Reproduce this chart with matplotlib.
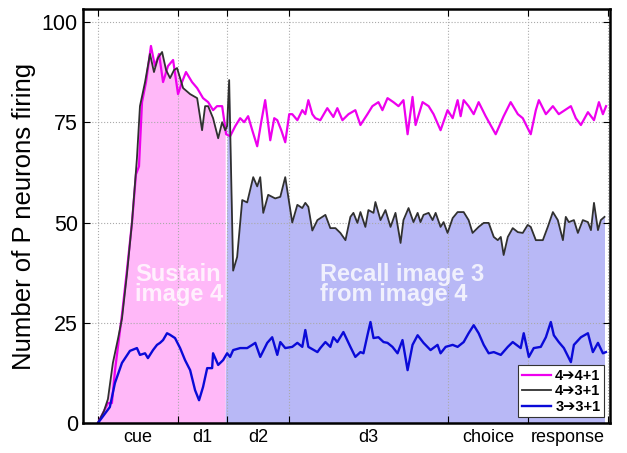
import numpy as np
import matplotlib
matplotlib.use("Agg")
import matplotlib.pyplot as plt

plt.rcParams['font.family'] = ['Liberation Sans', 'DejaVu Sans']

# time (ms) / number of neurons
t_44 = [0, 38, 63, 88, 107, 151, 182, 214, 239, 258, 277, 302, 333, 358, 384, 409, 440, 472, 503, 528,
        553, 591, 623, 660, 692, 723, 748, 780, 805, 830, 862, 893, 918, 943, 969, 1000, 1025, 1050, 1082, 1107,
        1126, 1151, 1176, 1201, 1220, 1252, 1283, 1302, 1321, 1346, 1365, 1396, 1440, 1478, 1503, 1535, 1573, 1616, 1648, 1692,
        1723, 1761, 1786, 1818, 1855, 1887, 1918, 1944, 1975, 1994, 2038, 2076, 2107, 2151, 2195, 2227, 2258, 2277, 2296, 2327,
        2359, 2390, 2434, 2497, 2547, 2591, 2636, 2667, 2717, 2749, 2768, 2812, 2856, 2893, 2931, 2969, 3000, 3032, 3076, 3114,
        3145, 3170, 3190]
n_44 = [0, 3, 5, 5, 13, 27, 38, 50, 62, 64, 80, 85, 94, 89, 92, 85, 89, 90.5, 82, 85,
        87.5, 85, 83.5, 81, 80, 78, 79, 79, 72, 71.5, 74, 76, 75, 76.5, 73, 69, 75, 80.5, 70.5, 76,
        75.5, 73, 70, 77, 77, 75.5, 78, 77, 80.5, 77, 76, 75.5, 78.5, 76.3, 78.5, 75.5, 77, 78, 74.3, 77,
        79, 80, 78, 81, 80, 79, 80.5, 72, 81.3, 74.3, 80, 79, 77, 73, 78, 76, 80.5, 76.5, 80.5, 79,
        77, 80, 76.5, 72, 76.5, 80, 77, 76, 72, 78, 80.5, 77, 79, 77, 78, 79, 76, 74.3, 77.5, 75.5,
        80, 77, 79]

t_43 = [0, 38, 63, 94, 126, 151, 182, 214, 245, 264, 296, 327, 352, 377, 403, 428, 453, 478, 497, 535,
        579, 623, 654, 673, 692, 723, 755, 780, 799, 811, 824, 849, 874, 906, 937, 975, 1000, 1019, 1038, 1069,
        1113, 1145, 1176, 1220, 1252, 1283, 1302, 1321, 1346, 1378, 1428, 1459, 1491, 1522, 1554, 1585, 1604, 1629, 1648, 1679,
        1698, 1730, 1742, 1774, 1805, 1837, 1868, 1900, 1918, 1950, 1981, 2007, 2025, 2044, 2076, 2101, 2120, 2151, 2170, 2195,
        2227, 2258, 2296, 2327, 2352, 2390, 2422, 2453, 2485, 2510, 2529, 2547, 2573, 2604, 2636, 2667, 2698, 2717, 2749, 2793,
        2824, 2856, 2887, 2919, 2937, 2956, 2988, 3013, 3044, 3076, 3095, 3114, 3139, 3157, 3180]
n_43 = [0, 3, 6, 15, 21, 26, 37, 50, 66, 79, 85, 92, 87.5, 91, 92.5, 88, 86, 88, 88.5, 83.5,
        82, 81, 73, 79, 79, 76, 71, 75, 73, 74, 85.5, 38, 41.4, 55.6, 55, 61.3, 59, 61.3, 52.4, 56.9,
        56, 56.4, 61.3, 50, 54.4, 53.6, 54.9, 53.9, 48, 50.6, 51.9, 48.6, 48.6, 47.4, 45.6, 51.4, 52.4, 49.9, 52.6, 48.9,
        53.1, 52.4, 55.1, 50.6, 53.1, 48.9, 52.4, 44.9, 50.6, 53.6, 50.1, 52.4, 50.1, 51.9, 52.4, 50.6, 52.4, 48.9, 50.1, 47.4,
        51.1, 52.6, 52.6, 50.6, 47.4, 48.9, 49.9, 49.9, 46.4, 45.6, 46.4, 41.9, 46.4, 48.6, 47.6, 47.4, 49.4, 48.9, 45.6, 45.6,
        48.9, 52.6, 50.6, 45.6, 51.4, 50.1, 50.6, 47.4, 50.6, 50.1, 48.1, 54.9, 48.1, 50.6, 51.4]

t_33 = [0, 75, 107, 151, 201, 245, 264, 296, 314, 346, 371, 390, 409, 434, 453, 484, 516, 547, 579, 610,
        635, 660, 686, 717, 723, 755, 786, 811, 830, 849, 893, 937, 969, 988, 1019, 1063, 1094, 1126, 1145, 1176,
        1220, 1252, 1283, 1302, 1321, 1378, 1396, 1428, 1459, 1478, 1503, 1541, 1585, 1616, 1648, 1667, 1692, 1711, 1730, 1761,
        1793, 1818, 1849, 1881, 1912, 1944, 1975, 2007, 2044, 2088, 2132, 2151, 2183, 2227, 2258, 2296, 2327, 2359, 2390, 2422,
        2453, 2485, 2529, 2573, 2604, 2654, 2673, 2705, 2736, 2780, 2812, 2843, 2862, 2893, 2925, 2969, 2988, 3032, 3076, 3107,
        3139, 3170, 3189]
n_33 = [0, 4, 10, 15, 18, 18.7, 17, 17.4, 16.2, 18.2, 19.5, 20, 20.7, 22.4, 22, 21.2, 18.7, 15.7, 13.2, 8.2,
        5.7, 9, 13.7, 13.7, 17.4, 14.5, 15.7, 17.4, 16.5, 18.2, 18.7, 18.7, 19.5, 20, 16.5, 20, 21.4, 17, 20.2, 18.7,
        19, 20, 19, 23.2, 19, 17.7, 18.7, 20.2, 19, 21.4, 20.2, 22.7, 19, 16.5, 17.7, 17.4, 21.9, 25.2, 21.2, 21.4,
        20.2, 20, 19, 17.4, 20.7, 13.2, 19.5, 21.9, 20, 18.2, 19.5, 17.4, 19, 19.5, 19, 20.2, 22.4, 24.4, 22.4, 19.5,
        17.4, 17.7, 17, 19, 20.2, 18.7, 22.4, 16.5, 18.7, 19, 21.4, 25.2, 21.9, 20.2, 18.7, 15.2, 19.5, 21.4, 22.4, 17.7,
        20, 17.4, 17.7]

epochs = ["cue", "d1", "d2", "d3", "choice", "response"]
epoch_edges = [0, 500, 810, 1200, 2200, 2700, 3200]
switch_t = 810

fig = plt.figure(figsize=(6.27, 4.53), dpi=100)
ax = fig.add_axes([0.132, 0.066, 0.841, 0.914])

t43 = np.array(t_43)
n43 = np.array(n_43)
ax.fill_between(t43, 0, n43, where=t43 <= switch_t, color="#ffb8f8", lw=0, interpolate=True)
ax.fill_between(t43, 0, n43, where=t43 >= switch_t, color="#b8b8f6", lw=0, interpolate=True)

l1, = ax.plot(t_44, n_44, color="#ee00ee", lw=1.6, label="4\u27944+1")
l2, = ax.plot(t_43, n_43, color="#303030", lw=1.3, label="4\u27943+1")
l3, = ax.plot(t_33, n_33, color="#0a0ad8", lw=1.7, label="3\u27943+1")

ax.text(233, 34.5, "Sustain\nimage 4", color="white", alpha=0.8, fontsize=17, fontweight="bold",
        linespacing=0.82, va="center", ha="left")
ax.text(1396, 34.5, "Recall image 3\nfrom image 4", color="white", alpha=0.8, fontsize=17, fontweight="bold",
        linespacing=0.82, va="center", ha="left")

ax.set_xlim(-95, 3215)
ax.set_ylim(0, 103.2)
ax.set_yticks([0, 25, 50, 75, 100])
ax.set_xticks(epoch_edges)
ax.set_xticklabels([])
mids = [(a + b) / 2 for a, b in zip(epoch_edges[:-1], epoch_edges[1:])]
ax.set_xticks(mids, minor=True)
ax.set_xticklabels(epochs, minor=True, fontsize=13)
ax.tick_params(axis="x", which="minor", length=0, pad=4)
ax.tick_params(axis="x", which="major", direction="in", top=True, length=5, width=0.8)
ax.tick_params(axis="y", direction="in", right=True, length=5, width=0.8, labelsize=15.5)
ax.grid(True, which="major", color="#aaaaaa", ls=":", lw=0.8)
for s in ax.spines.values():
    s.set_linewidth(1.8)
ax.set_ylabel("Number of P neurons firing", fontsize=18.5, labelpad=4)

leg = ax.legend(handles=[l1, l2, l3], loc="lower right", frameon=True, fancybox=False,
                handlelength=2.0, handletextpad=0.3, borderpad=0.25, labelspacing=0.1,
                borderaxespad=0.4, prop={"weight": "bold", "size": 10.5})
leg.get_frame().set_edgecolor("#333333")
leg.get_frame().set_linewidth(0.8)
leg.get_frame().set_alpha(1)

fig.savefig("out.png", dpi=100)
